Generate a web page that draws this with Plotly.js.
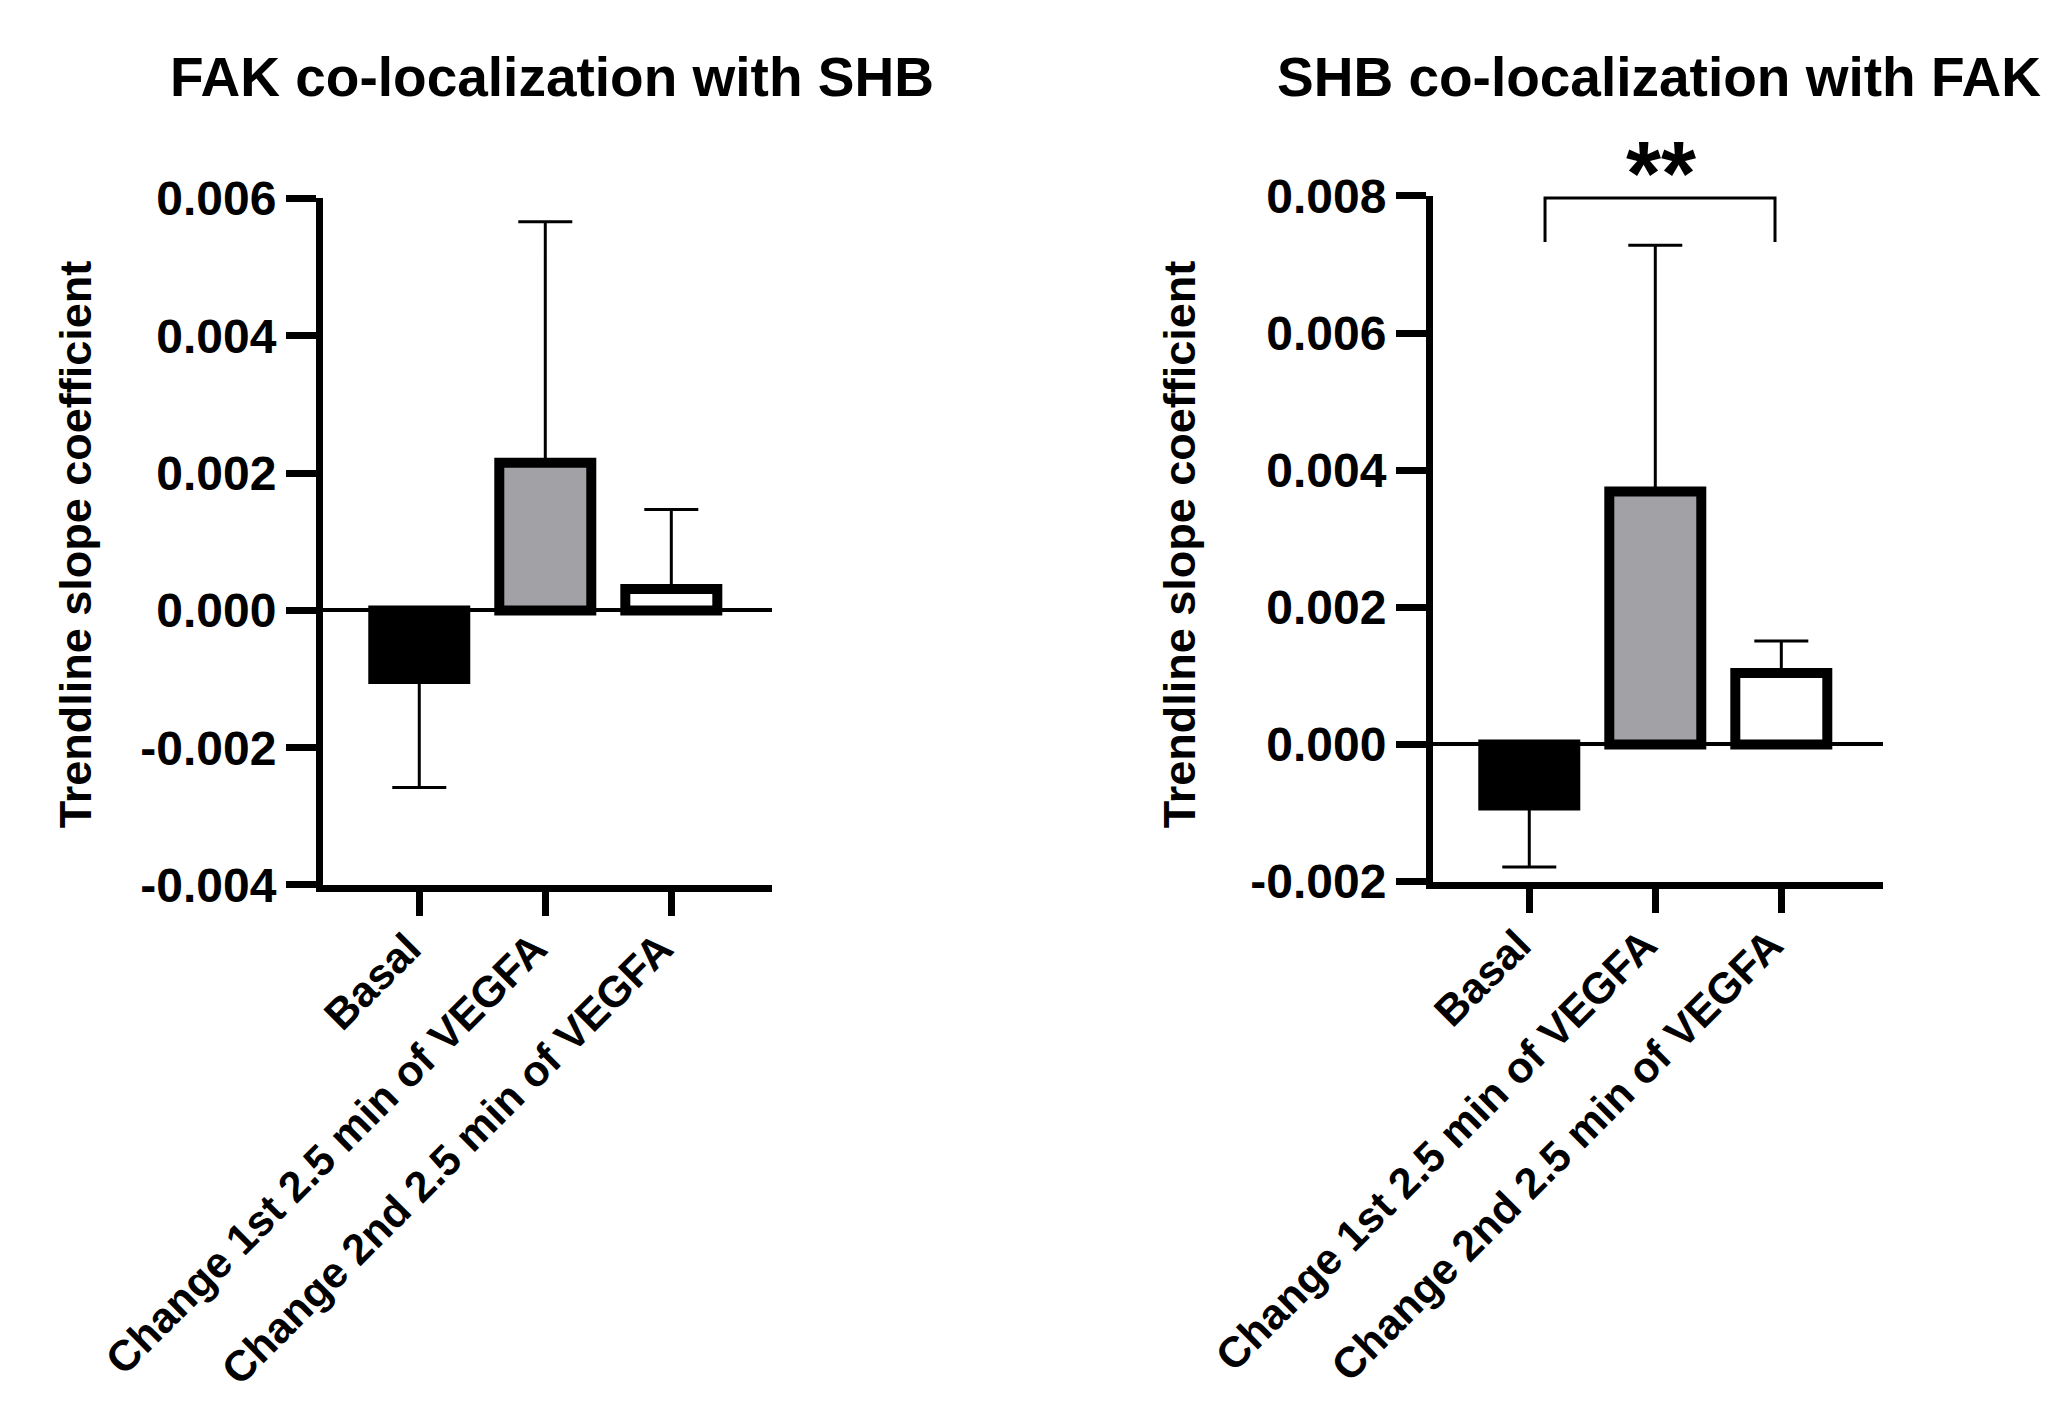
<!DOCTYPE html>
<html>
<head>
<meta charset="utf-8">
<script src="https://cdn.plot.ly/plotly-3.0.1.min.js"></script>
<style>
  html, body { margin: 0; padding: 0; background: #ffffff; }
  #chart { width: 2069px; height: 1414px; }
</style>
</head>
<body>
<div id="chart"></div>
<script>
// ---- data ----
const categories = ["Basal", "Change 1st 2.5 min of VEGFA", "Change 2nd 2.5 min of VEGFA"];
const barColors = ["#000000", "#a2a1a6", "#ffffff"];

const fakMeans   = [-0.00100, 0.00215, 0.00031];
const fakErrUp   = [0, 0.00351, 0.00116];
const fakErrDown = [0.00158, 0, 0];

const shbMeans   = [-0.00089, 0.00369, 0.00104];
const shbErrUp   = [0, 0.00359, 0.00047];
const shbErrDown = [0.00090, 0, 0];

const fakTickVals = [-0.004, -0.002, 0, 0.002, 0.004, 0.006];
const fakTickText = ["-0.004", "-0.002", "0.000", "0.002", "0.004", "0.006"];
const shbTickVals = [-0.002, 0, 0.002, 0.004, 0.006, 0.008];
const shbTickText = ["-0.002", "0.000", "0.002", "0.004", "0.006", "0.008"];

const leftTitle  = "FAK co-localization with SHB";
const rightTitle = "SHB co-localization with FAK";
const yTitle     = "Trendline slope coefficient";
const sigLabel   = "**";

// ---- styling ----
const FONT = "Liberation Sans, Arial, Helvetica, sans-serif";

function barTrace(means, up, down, xa, ya) {
  return {
    type: "bar",
    x: categories,
    y: means,
    width: 0.73,
    xaxis: xa, yaxis: ya,
    marker: { color: barColors, line: { color: "#000000", width: 10 } },
    error_y: {
      type: "data", symmetric: false,
      array: up, arrayminus: down,
      color: "#000000", thickness: 3, width: 27
    },
    showlegend: false,
    hoverinfo: "skip"
  };
}

function xAxis(domain, range, anchor) {
  return {
    domain: domain, anchor: anchor,
    type: "category", range: range,
    showline: true, linecolor: "#000000", linewidth: 7,
    ticks: "outside", ticklen: 24, tickwidth: 7, tickcolor: "#000000",
    tickangle: -45,
    ticklabelshift: -11, ticklabelstandoff: -10,
    tickfont: { family: FONT, size: 43, color: "#000000", weight: 700 },
    showgrid: false, zeroline: false, automargin: false, fixedrange: true
  };
}

function yAxis(domain, range, vals, text, anchor) {
  return {
    domain: domain, anchor: anchor,
    range: range,
    tickmode: "array", tickvals: vals, ticktext: text,
    showline: true, linecolor: "#000000", linewidth: 7,
    ticks: "outside", ticklen: 30, tickwidth: 7, tickcolor: "#000000",
    tickfont: { family: FONT, size: 48, color: "#000000", weight: 700 },
    showgrid: false,
    zeroline: true, zerolinecolor: "#000000", zerolinewidth: 4,
    automargin: false, fixedrange: true
  };
}

const data = [
  barTrace(fakMeans, fakErrUp, fakErrDown, "x", "y"),
  barTrace(shbMeans, shbErrUp, shbErrDown, "x2", "y2")
];

// significance bracket (Basal vs 2nd change, right panel)
const bracketX = [0.125, 1.95];
const bracketY = [0.00733, 0.00797];

const layout = {
  width: 2069, height: 1414,
  margin: { l: 0, r: 0, t: 0, b: 0 },
  paper_bgcolor: "#ffffff", plot_bgcolor: "rgba(0,0,0,0)",
  font: { family: FONT, color: "#000000" },
  xaxis:  xAxis([0.15611, 0.37313], [-0.764, 2.799], "y"),
  yaxis:  yAxis([0.37412, 0.85962], [-0.004, 0.006], fakTickVals, fakTickText, "x"),
  xaxis2: xAxis([0.69261, 0.91010], [-0.764, 2.807], "y2"),
  yaxis2: yAxis([0.37659, 0.86139], [-0.002, 0.008], shbTickVals, shbTickText, "x2"),
  shapes: [{
    type: "path", xref: "x2", yref: "y2",
    path: "M " + bracketX[0] + "," + bracketY[0] +
          " L " + bracketX[0] + "," + bracketY[1] +
          " L " + bracketX[1] + "," + bracketY[1] +
          " L " + bracketX[1] + "," + bracketY[0],
    line: { color: "#000000", width: 3 }
  }],
  annotations: [
    { text: leftTitle, xref: "paper", yref: "paper", x: 0.2668, y: 0.9455,
      xanchor: "center", yanchor: "middle", showarrow: false,
      font: { family: FONT, size: 55, color: "#000000", weight: 700 } },
    { text: rightTitle, xref: "paper", yref: "paper", x: 0.8018, y: 0.9455,
      xanchor: "center", yanchor: "middle", showarrow: false,
      font: { family: FONT, size: 55, color: "#000000", weight: 700 } },
    { text: yTitle, xref: "paper", yref: "paper", x: 0.0362, y: 0.6150,
      xanchor: "center", yanchor: "middle", textangle: -90, showarrow: false,
      font: { family: FONT, size: 45, color: "#000000", weight: 700 } },
    { text: yTitle, xref: "paper", yref: "paper", x: 0.5698, y: 0.6150,
      xanchor: "center", yanchor: "middle", textangle: -90, showarrow: false,
      font: { family: FONT, size: 45, color: "#000000", weight: 700 } },
    { text: sigLabel, xref: "paper", yref: "paper", x: 0.8028, y: 0.877,
      xanchor: "center", yanchor: "middle", showarrow: false,
      font: { family: FONT, size: 90, color: "#000000", weight: 700 } }
  ]
};

Plotly.newPlot("chart", data, layout, { staticPlot: true, displayModeBar: false });
</script>
</body>
</html>
